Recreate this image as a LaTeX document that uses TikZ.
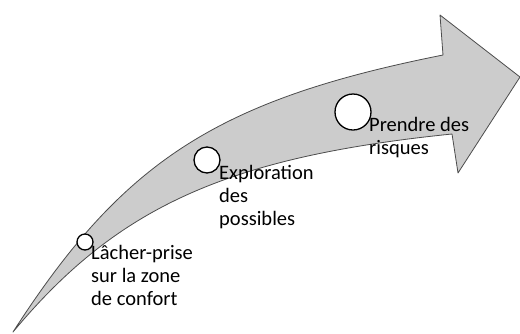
\documentclass[tikz,border=0pt]{standalone}
\usepackage{fontspec}
\setmainfont{Carlito}
\begin{document}
\begin{tikzpicture}[x=1pt,y=-1pt,line join=round,
  spot/.style={circle,draw=black,fill=white,line width=1.3pt,inner sep=0pt},
  lbl/.style={anchor=north west,align=left,inner sep=0pt,font=\fontsize{20.5}{23}\selectfont}]
\useasboundingbox (0,0) rectangle (520,333);
% curved arrow
\draw[fill=black!20,draw=black!70,line width=0.8pt]
  (13,332) .. controls (123,161) and (217,100) .. (443,55)
  -- (440,15) -- (520,77) -- (458,173) -- (452,134)
  .. controls (227,157) and (117,207) .. (13,332) -- cycle;
% steps
\node[spot,minimum size=16pt] (s1) at (85,242) {};
\node[spot,minimum size=26pt] (s2) at (207,160) {};
\node[spot,minimum size=36pt] (s3) at (353,112) {};
\node[lbl] (t1) at (91,245) {Lâcher-prise\\sur la zone\\de confort};
\node[lbl] (t2) at (219,165) {Exploration\\des\\possibles};
\node[lbl] (t3) at (369,117) {Prendre des\\risques};
\end{tikzpicture}
\end{document}
